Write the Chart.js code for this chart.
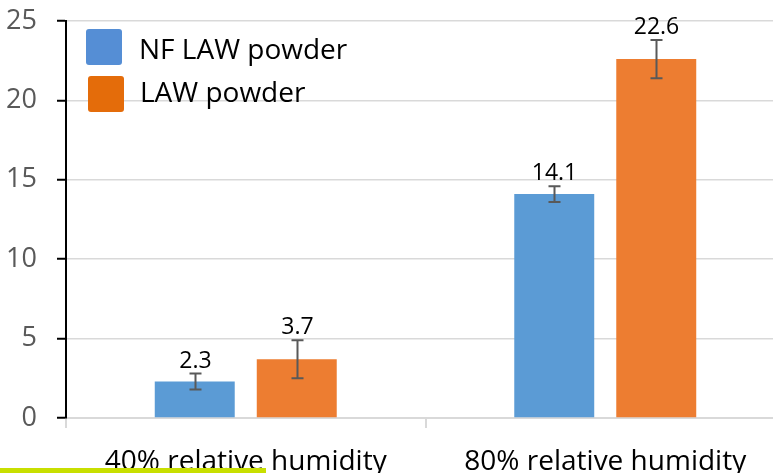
<!DOCTYPE html>
<html><head><meta charset="utf-8">
<script src="https://cdn.jsdelivr.net/npm/chart.js@4/dist/chart.umd.min.js"></script>
<style>
html,body{margin:0;padding:0;overflow:hidden;background:#fff;width:773px;height:473px}
#wrap{position:absolute;left:0;top:0;width:785px;height:473px}
#hl{position:absolute;left:0;top:468px;width:266px;height:5px;background:#C8DF00}
</style></head><body>
<div id="wrap"><canvas id="c" width="785" height="473"></canvas></div>
<div id="hl"></div>
<script>
const categories = ['40% relative humidity', '80% relative humidity'];
const seriesNames = ['NF LAW powder', 'LAW powder'];
const nfLawValues = [2.3, 14.1];
const lawValues = [3.7, 22.6];
const nfLawErrors = [0.5, 0.5];
const lawErrors = [1.2, 1.2];
const yTicks = [0, 5, 10, 15, 20, 25];

const FONT = "'Open Sans', sans-serif";
const barColors = ['#5B9BD5', '#ED7D31'];
const legendColors = ['#558ED5', '#E46C0A'];
const errors = [nfLawErrors, lawErrors];

const overlay = {
  id: 'overlay',
  afterDatasetsDraw(chart) {
    const ctx = chart.ctx;
    const ys = chart.scales.y;
    ctx.save();
    chart.data.datasets.forEach((ds, i) => {
      const meta = chart.getDatasetMeta(i);
      meta.data.forEach((el, j) => {
        const v = ds.data[j], e = errors[i][j];
        const yt = ys.getPixelForValue(v + e);
        const yb = ys.getPixelForValue(v - e);
        const x = Math.round(el.x) + 0.5;
        ctx.strokeStyle = '#595959';
        ctx.lineWidth = 2;
        ctx.beginPath();
        ctx.moveTo(x, yt); ctx.lineTo(x, yb);
        ctx.moveTo(x - 6, yt); ctx.lineTo(x + 6, yt);
        ctx.moveTo(x - 6, yb); ctx.lineTo(x + 6, yb);
        ctx.stroke();
        ctx.fillStyle = '#000';
        ctx.font = '23px ' + FONT;
        ctx.textAlign = 'center';
        ctx.textBaseline = 'alphabetic';
        ctx.fillText(v.toFixed(1), x, yt - 6);
      });
    });
    // legend
    const boxes = [[86, 29], [88, 76]];
    const texts = [[139, 59], [140, 102]];
    seriesNames.forEach((n, i) => {
      ctx.fillStyle = legendColors[i];
      ctx.beginPath();
      ctx.roundRect(boxes[i][0], boxes[i][1], 36, 36, 3);
      ctx.fill();
      ctx.fillStyle = '#000';
      ctx.font = '28px ' + FONT;
      ctx.textAlign = 'left';
      ctx.textBaseline = 'alphabetic';
      ctx.fillText(n, texts[i][0], texts[i][1]);
    });
    ctx.restore();
  }
};

new Chart(document.getElementById('c'), {
  type: 'bar',
  data: {
    labels: categories,
    datasets: [
      { label: seriesNames[0], data: nfLawValues, backgroundColor: barColors[0], categoryPercentage: 0.5675, barPercentage: 0.784 },
      { label: seriesNames[1], data: lawValues, backgroundColor: barColors[1], categoryPercentage: 0.5675, barPercentage: 0.784 }
    ]
  },
  options: {
    responsive: false,
    animation: false,
    layout: { padding: { left: 0, top: 21, right: 0, bottom: 0 } },
    plugins: { legend: { display: false }, tooltip: { enabled: false } },
    scales: {
      x: {
        afterFit(s) { s.height = 55; s.paddingLeft = 0; s.paddingRight = 0; },
        grid: { display: true, drawOnChartArea: false, offset: true, tickLength: 10, color: '#D9D9D9', lineWidth: 2 },
        border: { color: '#D9D9D9', width: 2 },
        ticks: { color: '#000', font: { family: FONT, size: 28 }, padding: 17, maxRotation: 0 }
      },
      y: {
        min: 0, max: 25,
        afterFit(s) { s.width = 66; s.paddingTop = 0; s.paddingBottom = 0; },
        afterBuildTicks(s) { s.ticks = yTicks.map(v => ({ value: v })); },
        grid: { color: '#D9D9D9', lineWidth: 1.5, tickLength: 9, tickColor: '#000', tickWidth: 2 },
        border: { color: '#000', width: 2 },
        ticks: { color: '#595959', font: { family: FONT, size: 27 }, padding: 20 }
      }
    }
  },
  plugins: [overlay]
});
</script>
</body></html>
